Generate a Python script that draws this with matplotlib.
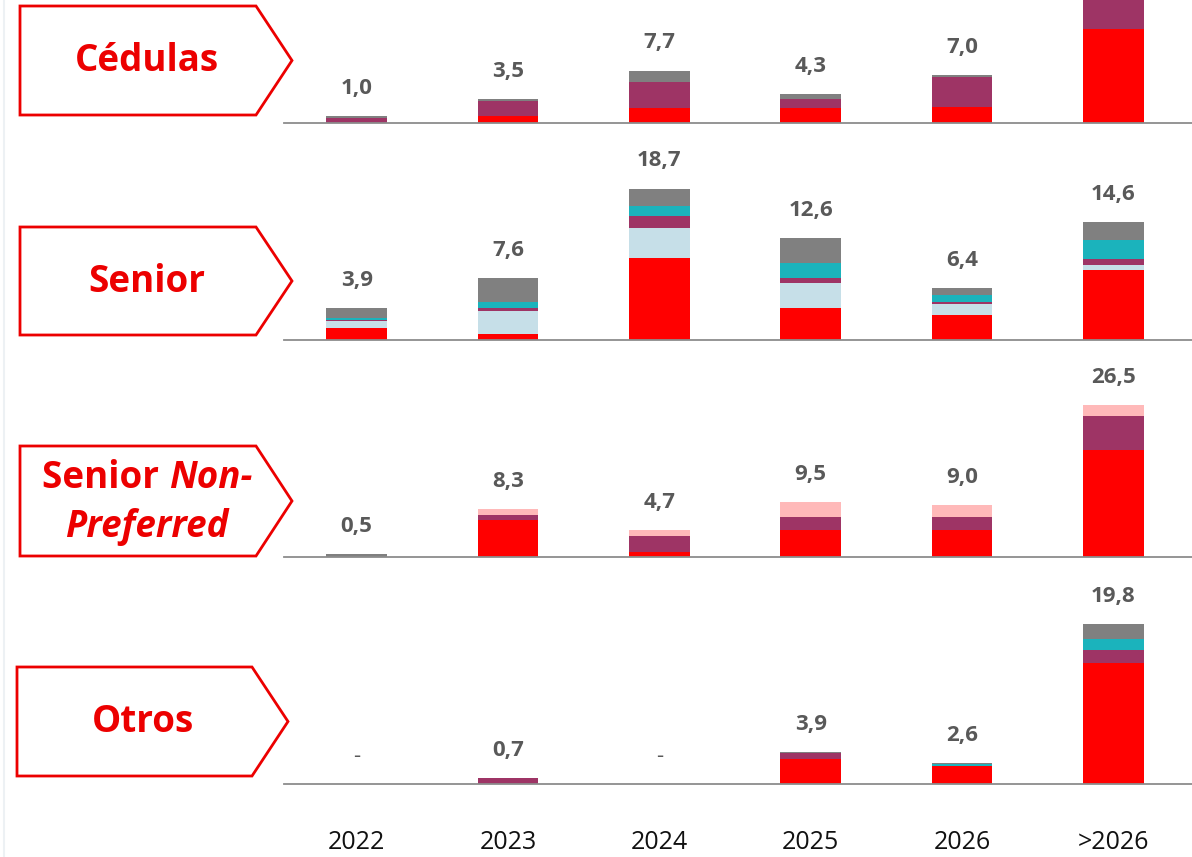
import numpy as np
import matplotlib
matplotlib.use("Agg")
import matplotlib.pyplot as plt
from matplotlib.patches import Polygon
from matplotlib.lines import Line2D

plt.rcParams['font.family'] = ['Open Sans', 'DejaVu Sans']

years = ["2022", "2023", "2024", "2025", "2026", ">2026"]

# series colours, stacked bottom to top
series = ["red", "lightblue", "purple", "pink", "teal", "gray"]
colors = {"red": "#FF0000", "lightblue": "#C6DFE8", "purple": "#9E3465",
          "pink": "#FFB9B9", "teal": "#1BB3BC", "gray": "#808080"}

# Cédulas
ced_red = [0.0, 1.1, 2.2, 2.2, 2.4, 13.9]
ced_purple = [0.8, 2.2, 3.8, 1.3, 4.3, 6.5]
ced_gray = [0.2, 0.2, 1.7, 0.8, 0.3, 0.0]
ced_total = [1.0, 3.5, 7.7, 4.3, 7.0, 20.4]

# Senior
sen_red = [1.5, 0.8, 10.1, 3.9, 3.1, 8.6]
sen_lightblue = [0.8, 2.8, 3.7, 3.2, 1.4, 0.7]
sen_purple = [0.2, 0.4, 1.5, 0.5, 0.2, 0.7]
sen_teal = [0.2, 0.7, 1.2, 1.9, 0.9, 2.4]
sen_gray = [1.2, 2.9, 2.2, 3.1, 0.8, 2.2]
sen_total = [3.9, 7.6, 18.7, 12.6, 6.4, 14.6]

# Senior Non-Preferred
snp_red = [0.0, 6.5, 0.8, 4.7, 4.7, 18.6]
snp_purple = [0.0, 0.8, 2.9, 2.3, 2.3, 5.9]
snp_pink = [0.0, 1.0, 1.0, 2.5, 2.0, 2.0]
snp_gray = [0.5, 0.0, 0.0, 0.0, 0.0, 0.0]
snp_total = [0.5, 8.3, 4.7, 9.5, 9.0, 26.5]

# Otros
otr_red = [0.0, 0.0, 0.0, 3.1, 2.2, 15.0]
otr_purple = [0.0, 0.7, 0.0, 0.7, 0.0, 1.6]
otr_teal = [0.0, 0.0, 0.0, 0.0, 0.3, 1.4]
otr_gray = [0.0, 0.0, 0.0, 0.1, 0.1, 1.8]
otr_total = [0.0, 0.7, 0.0, 3.9, 2.6, 19.8]

rows = [
    {"name": "Cédulas", "total": ced_total,
     "data": {"red": ced_red, "purple": ced_purple, "gray": ced_gray}},
    {"name": "Senior", "total": sen_total,
     "data": {"red": sen_red, "lightblue": sen_lightblue, "purple": sen_purple,
              "teal": sen_teal, "gray": sen_gray}},
    {"name": "Senior Non-Preferred", "total": snp_total,
     "data": {"red": snp_red, "purple": snp_purple, "pink": snp_pink, "gray": snp_gray}},
    {"name": "Otros", "total": otr_total,
     "data": {"red": otr_red, "purple": otr_purple, "teal": otr_teal, "gray": otr_gray}},
]

W, H = 1192, 857
fig = plt.figure(figsize=(W / 100, H / 100), dpi=100)

# faint slide edge on the left
fig.add_artist(Line2D([3.5 / W, 3.5 / W], [0, 1], color="#EDF1F4", linewidth=1.5,
                      transform=fig.transFigure))

# axes placement in pixels: (top, baseline, ymax)
layout = [(0, 123, 18.1), (140, 340, 24.7), (360, 557, 34.3), (590, 784, 24.0)]
left_px = 284

x = np.arange(len(years))
axes = []
for row, (top, base, ymax) in zip(rows, layout):
    ax = fig.add_axes([left_px / W, 1 - base / H, (W - left_px) / W, (base - top) / H])
    bottom = np.zeros(len(years))
    for s in series:
        if s not in row["data"]:
            continue
        vals = np.array(row["data"][s])
        ax.bar(x - 0.02, vals, 0.4, bottom=bottom, color=colors[s], linewidth=0)
        bottom += vals
    for i, t in enumerate(row["total"]):
        label = "-" if t == 0 else f"{t:.1f}".replace(".", ",")
        ax.annotate(label, (x[i] - 0.02, bottom[i]), xytext=(0, 20), textcoords="offset points",
                    ha="center", va="center", fontsize=16, color="#595959",
                    fontweight="normal" if t == 0 else "bold")
    ax.set_xlim(-0.5, len(years) - 0.5)
    ax.set_ylim(0, ymax)
    for sp in ["top", "right", "left"]:
        ax.spines[sp].set_visible(False)
    ax.spines["bottom"].set_color("#8C8C8C")
    ax.spines["bottom"].set_linewidth(1.3)
    ax.set_yticks([])
    ax.set_xticks([])
    ax.patch.set_alpha(0)
    axes.append(ax)

axes[-1].set_xticks(x - 0.02)
axes[-1].set_xticklabels(years, fontsize=18, color="#111111")
axes[-1].tick_params(axis="x", length=0, pad=33)

# arrow-shaped labels on the left
red = "#EC0000"
boxes = [(20, 256, 292, 6, 115), (20, 256, 292, 227, 335),
         (20, 256, 292, 446, 556), (17, 252, 288, 667, 776)]


def fpt(px, py):
    return (px / W, 1 - py / H)


for (l, r, tip, t, b) in boxes:
    pts = [fpt(l, t), fpt(r, t), fpt(tip, (t + b) / 2), fpt(r, b), fpt(l, b)]
    fig.patches.append(Polygon(pts, closed=True, transform=fig.transFigure,
                               facecolor="white", edgecolor=red, linewidth=2))

fs_box = 26.5
fig.text(*fpt(147, 61), "Cédulas", ha="center", va="center", color=red,
         fontsize=fs_box, fontweight="bold")
fig.text(*fpt(147, 282), "Senior", ha="center", va="center", color=red,
         fontsize=fs_box, fontweight="bold")
fig.text(*fpt(143, 722), "Otros", ha="center", va="center", color=red,
         fontsize=fs_box, fontweight="bold")

# mixed upright / italic label
t1 = fig.text(0, 1 - 478 / H, "Senior ", ha="left", va="center", color=red,
              fontsize=fs_box, fontweight="bold")
t2 = fig.text(0, 1 - 478 / H, "Non-", ha="left", va="center", color=red,
              fontsize=fs_box, fontweight="bold", fontstyle="italic")
rend = fig.canvas.get_renderer()
w1 = t1.get_window_extent(rend).width
w2 = t2.get_window_extent(rend).width
x0 = 147 - (w1 + w2) / 2
t1.set_x(x0 / W)
t2.set_x((x0 + w1) / W)
fig.text(*fpt(147, 527), "Preferred", ha="center", va="center", color=red,
         fontsize=fs_box, fontweight="bold", fontstyle="italic")

fig.savefig("out.png", dpi=100)
